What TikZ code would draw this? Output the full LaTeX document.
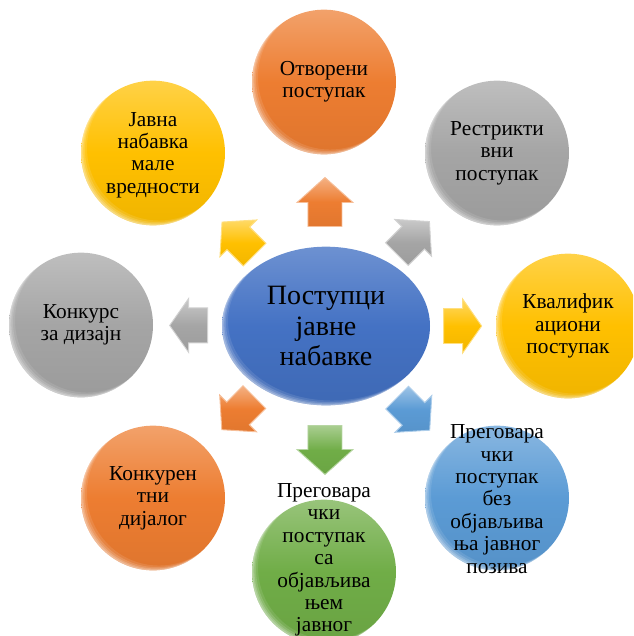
\documentclass[tikz,border=0pt]{standalone}
\usepackage{fontspec}
\setmainfont{Liberation Serif}
\usetikzlibrary{calc,shapes.geometric}

\definecolor{accOrange}{HTML}{ED7D31}
\definecolor{accYellow}{HTML}{FFC000}
\definecolor{accGray}{HTML}{A5A5A5}
\definecolor{accBlue}{HTML}{4472C4}
\definecolor{accSky}{HTML}{5B9BD5}
\definecolor{accGreen}{HTML}{70AD47}

\tikzset{
  % soft rim light on the lower-left edge of a ball, built from stacked crescents
  gloss/.style 2 args={path picture={
    \foreach \sh/\op in {4.5pt/.10, 3pt/.14, 1.8pt/.18, 0.9pt/.22}{
      \fill[white, opacity=\op, even odd rule]
        (path picture bounding box.south west) rectangle (path picture bounding box.north east)
        ([xshift=\sh, yshift=0.8*\sh]path picture bounding box.center) ellipse [x radius=#1, y radius=#2];
    }
  }},
  ball/.style={ellipse, inner sep=0pt, outer sep=0pt,
    minimum width=108pt, minimum height=108.5pt,
    top color=#1!72!white, bottom color=#1!94!black, middle color=#1,
    gloss={54pt}{54.25pt}},
  hubball/.style={ellipse, inner sep=0pt, outer sep=0pt,
    minimum width=156pt, minimum height=119pt,
    top color=#1!78!white, bottom color=#1!92!black, middle color=#1,
    gloss={78pt}{59.5pt}},
  txt/.style={align=center, inner sep=0pt, font=\fontsize{16}{16.8}\selectfont},
  hubtxt/.style={align=center, inner sep=0pt, font=\fontsize{21}{23}\selectfont},
  % block arrow: length, head length, head half width, shaft half width
  arrow dims/.code n args={4}{\def\bl{#1}\def\bh{#2}\def\bw{#3}\def\bs{#4}},
  vertarrow/.style={arrow dims={49}{25}{28}{17}},
  horzarrow/.style={arrow dims={38}{19}{27}{17.5}},
  diagarrow/.style={arrow dims={46}{23}{26}{16}},
  arrowpaint/.style={top color=#1!60!white, bottom color=#1!95!black, middle color=#1,
    draw=#1!50!white, line width=0.7pt, line join=miter},
  barrow/.pic={
    \path[pic actions]
      (-\bl/2,-\bs) -- (\bl/2-\bh,-\bs) -- (\bl/2-\bh,-\bw) -- (\bl/2,0)
      -- (\bl/2-\bh,\bw) -- (\bl/2-\bh,\bs) -- (-\bl/2,\bs) -- cycle;
  },
}

\begin{document}
\begin{tikzpicture}[x=0.75pt, y=-0.75pt]
  \useasboundingbox (0,0) rectangle (633,636);
  \clip (0,0) rectangle (633,636);

  % centre and the eight procedures around it
  \node[hubball=accBlue] (hub) at (326,326) {};
  \node[ball=accOrange] (open)     at (324,82)  {};
  \node[ball=accGray]   (restr)    at (497,153) {};
  \node[ball=accYellow] (qual)     at (568,326) {};
  \node[ball=accSky]    (negnopub) at (497,498) {};
  \node[ball=accGreen]  (negpub)   at (324,572) {};
  \node[ball=accOrange] (dialog)   at (153,498) {};
  \node[ball=accGray]   (design)   at (81,325)  {};
  \node[ball=accYellow] (lowval)   at (153,153) {};

  % labels
  \node[hubtxt] (hubt) at (hub) {Поступци\\јавне\\набавке};
  \node[txt] (opent) at (open) {Отворени\\поступак};
  \node[txt] (restrt) at (restr) {Рестрикти\\вни\\поступак};
  \node[txt] (qualt) at (qual) {Квалифик\\ациони\\поступак};
  \node[txt] (negnopubt) at ([yshift=-0.75pt]negnopub) {Преговара\\чки\\поступак\\без\\објављива\\ња јавног\\позива};
  \node[txt] (negpubt) at ([yshift=9pt]negpub) {Преговара\\чки\\поступак\\са\\објављива\\њем\\јавног};
  \node[txt] (dialogt) at (dialog) {Конкурен\\тни\\дијалог};
  \node[txt] (designt) at (design) {Конкурс\\за дизајн};
  \node[txt] (lowvalt) at ([yshift=-1.5pt]lowval) {Јавна\\набавка\\мале\\вредности};

  % block arrows pointing from the centre outwards
  \pic[rotate=90,   vertarrow, arrowpaint=accOrange] at ($(hub)!93pt!(open)$) {barrow};
  \pic[rotate=45,   diagarrow, arrowpaint=accGray]   at ($(hub)!93pt!(restr)$) {barrow};
  \pic[rotate=0,    horzarrow, arrowpaint=accYellow] at ($(hub)!102.5pt!(qual)$) {barrow};
  \pic[rotate=-45,  diagarrow, arrowpaint=accSky]    at ($(hub)!93pt!(negnopub)$) {barrow};
  \pic[rotate=-90,  vertarrow, arrowpaint=accGreen]  at ($(hub)!93pt!(negpub)$) {barrow};
  \pic[rotate=-135, diagarrow, arrowpaint=accOrange] at ($(hub)!93pt!(dialog)$) {barrow};
  \pic[rotate=180,  horzarrow, arrowpaint=accGray]   at ($(hub)!103pt!(design)$) {barrow};
  \pic[rotate=135,  diagarrow, arrowpaint=accYellow] at ($(hub)!93pt!(lowval)$) {barrow};
\end{tikzpicture}
\end{document}
